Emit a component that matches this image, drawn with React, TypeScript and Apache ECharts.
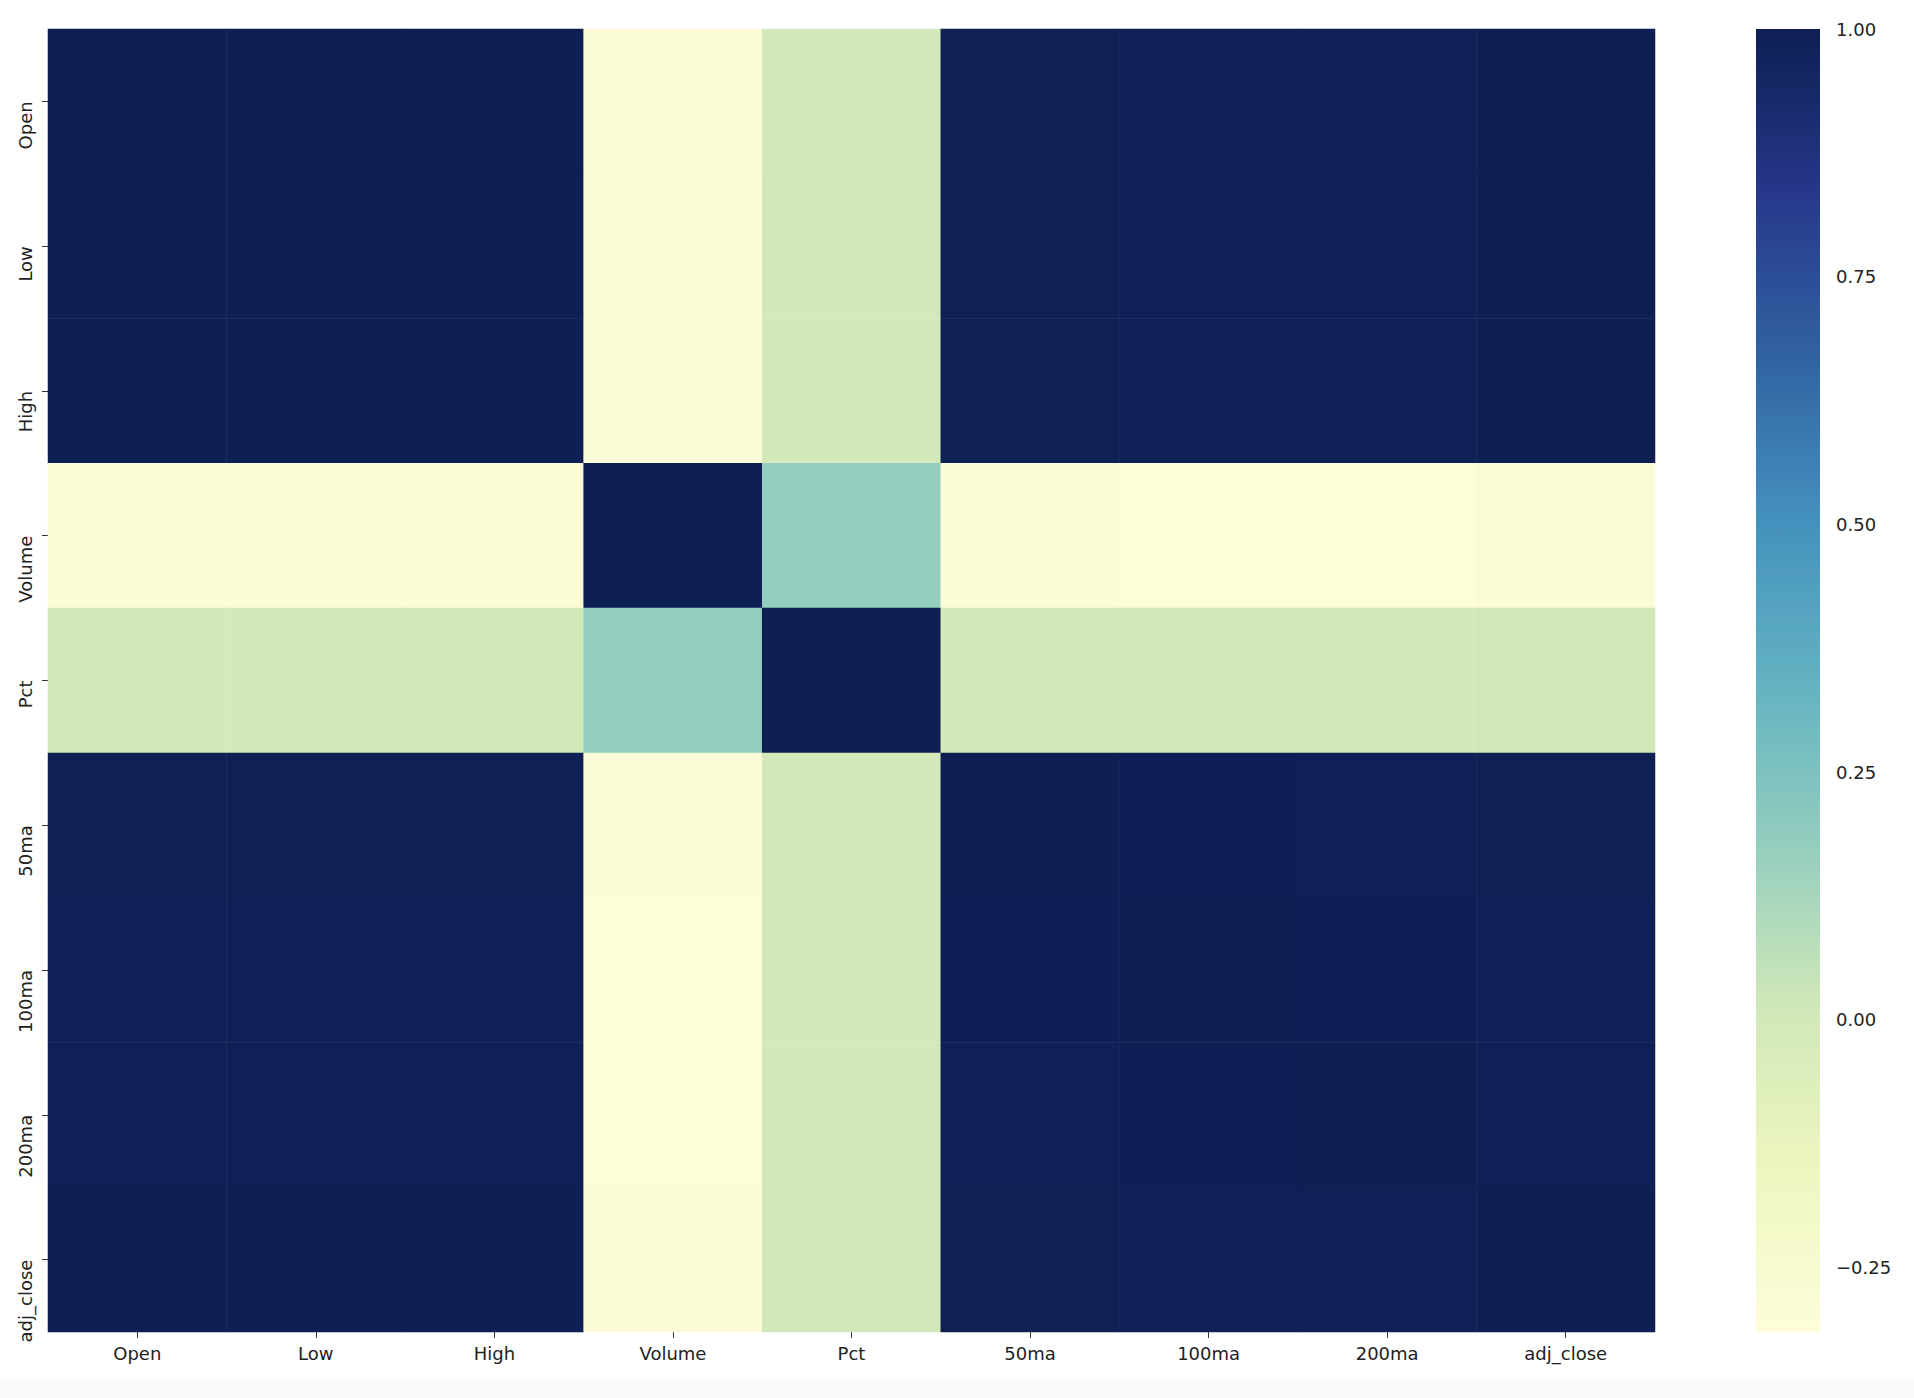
import React, { useEffect, useRef } from "react";
import * as echarts from "echarts";

const categories = ["Open", "Low", "High", "Volume", "Pct", "50ma", "100ma", "200ma", "adj_close"];

const rowOpen = [1.0, 0.9997, 0.9997, -0.3, 0.0, 0.996, 0.994, 0.992, 0.9995];
const rowLow = [0.9997, 1.0, 0.9995, -0.306, -0.002, 0.996, 0.994, 0.992, 0.9997];
const rowHigh = [0.9997, 0.9995, 1.0, -0.296, 0.002, 0.996, 0.994, 0.992, 0.9997];
const rowVolume = [-0.3, -0.306, -0.296, 1.0, 0.175, -0.305, -0.31, -0.315, -0.29];
const rowPct = [0.0, -0.002, 0.002, 0.175, 1.0, -0.003, -0.002, -0.001, 0.012];
const row50ma = [0.996, 0.996, 0.996, -0.305, -0.003, 1.0, 0.998, 0.995, 0.996];
const row100ma = [0.994, 0.994, 0.994, -0.31, -0.002, 0.998, 1.0, 0.997, 0.994];
const row200ma = [0.992, 0.992, 0.992, -0.315, -0.001, 0.995, 0.997, 1.0, 0.992];
const rowAdjClose = [0.9995, 0.9997, 0.9997, -0.29, 0.012, 0.996, 0.994, 0.992, 1.0];

const matrix = [rowOpen, rowLow, rowHigh, rowVolume, rowPct, row50ma, row100ma, row200ma, rowAdjClose];

const colorbarTicks = [-0.25, 0, 0.25, 0.5, 0.75, 1.0];

// YlGnBu as it appears in the reference picture
const palette = ["#fdfdd9", "#eef6c0", "#d0e8b8", "#93cdbe", "#62b2c2", "#4490bd", "#3062a2", "#27378a", "#0d1f53"];

const VMIN = -0.315;
const VMAX = 1.0;

const FONT = "DejaVu Sans";
const TEXT = "#222";

export default function App() {
  const ref = useRef<HTMLDivElement>(null);

  useEffect(() => {
    if (!ref.current) return;
    const chart = echarts.init(ref.current, null, { renderer: "svg" });

    const heatData: [number, number, number][] = [];
    matrix.forEach((row, yi) => {
      row.forEach((v, xi) => {
        heatData.push([xi, yi, v]);
      });
    });

    const stops = palette
      .slice()
      .reverse()
      .map((c, i) => ({ offset: i / (palette.length - 1), color: c }));

    chart.setOption({
      animation: false,
      backgroundColor: "#ffffff",
      textStyle: { fontFamily: FONT },
      graphic: [
        {
          type: "rect",
          z: -10,
          shape: { x: 0, y: 1380, width: 1914, height: 18 },
          style: { fill: "#fafafa" },
          silent: true,
        },
      ],
      grid: [
        { left: 48, top: 29, width: 1607, height: 1303 },
        { left: 1756, top: 29, width: 64, height: 1303 },
      ],
      xAxis: [
        {
          type: "category",
          gridIndex: 0,
          data: categories,
          axisLine: { show: false },
          axisTick: { show: true, alignWithLabel: true, length: 6, lineStyle: { color: "#333" } },
          axisLabel: { color: TEXT, fontSize: 18, fontFamily: FONT, margin: 12 },
          splitLine: { show: false },
        },
        {
          type: "value",
          gridIndex: 1,
          min: 0,
          max: 1,
          show: false,
        },
      ],
      yAxis: [
        {
          type: "category",
          gridIndex: 0,
          data: categories,
          inverse: true,
          axisLine: { show: false },
          axisTick: { show: true, alignWithLabel: true, length: 6, lineStyle: { color: "#333" } },
          axisLabel: {
            color: TEXT,
            fontSize: 18,
            fontFamily: FONT,
            rotate: 90,
            margin: 14,
            align: "right",
          },
          splitLine: { show: false },
        },
        {
          type: "value",
          gridIndex: 1,
          min: VMIN,
          max: VMAX,
          position: "right",
          axisLine: { show: false },
          splitLine: { show: false },
          axisTick: {
            show: true,
            length: 8,
            customValues: colorbarTicks,
            lineStyle: { color: "#333" },
          },
          axisLabel: {
            color: TEXT,
            fontSize: 18,
            fontFamily: FONT,
            margin: 16,
            customValues: colorbarTicks,
            formatter: (v: number) => {
              const s = Math.abs(v).toFixed(2);
              return v < 0 ? "\u2212" + s : s;
            },
          },
        },
      ],
      visualMap: {
        show: false,
        type: "continuous",
        min: VMIN,
        max: VMAX,
        seriesIndex: 0,
        inRange: { color: palette },
      },
      series: [
        {
          type: "heatmap",
          xAxisIndex: 0,
          yAxisIndex: 0,
          data: heatData,
          itemStyle: { borderWidth: 0 },
          emphasis: { disabled: true },
        },
        {
          type: "custom",
          xAxisIndex: 1,
          yAxisIndex: 1,
          data: [[0, VMAX]],
          silent: true,
          renderItem: (_params: any, api: any) => {
            const p0 = api.coord([0, VMAX]);
            const p1 = api.coord([1, VMIN]);
            return {
              type: "rect",
              shape: { x: p0[0], y: p0[1], width: p1[0] - p0[0], height: p1[1] - p0[1] },
              style: { fill: new echarts.graphic.LinearGradient(0, 0, 0, 1, stops) },
            };
          },
        },
      ],
    });

    return () => {
      chart.dispose();
    };
  }, []);

  return (
    <div
      ref={ref}
      style={{ position: "fixed", left: 0, top: 0, width: 1914, height: 1398 }}
    />
  );
}
